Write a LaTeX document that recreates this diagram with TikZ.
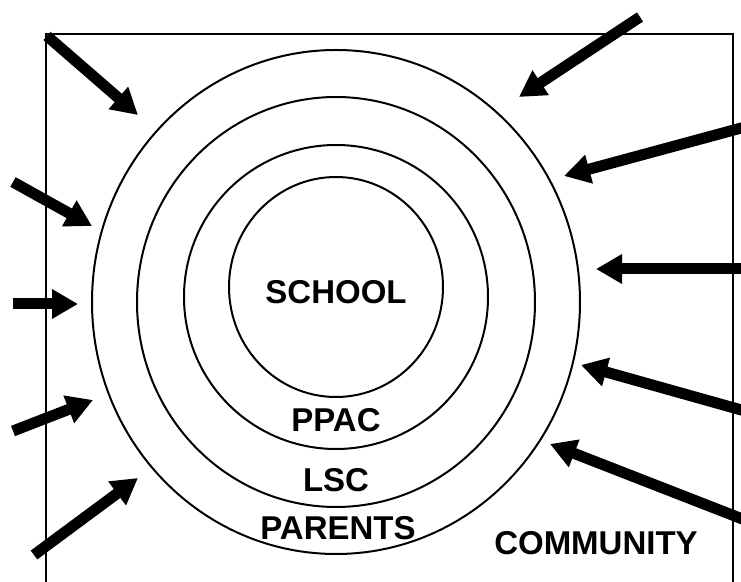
\documentclass[tikz,border=0pt]{standalone}
\usepackage{fontspec}
\setmainfont{Liberation Sans}
\usetikzlibrary{arrows.meta}

\tikzset{
  ring/.style={draw, line width=1pt},
  push/.style={line width=5.5pt, -{Triangle[length=13pt,width=14pt]}},
  lbl/.style={font=\fontsize{16.5}{18}\selectfont\bfseries, inner sep=0pt},
}

\begin{document}
\begin{tikzpicture}[x=0.5pt, y=-0.5pt]
	\clip (0,0) rectangle (741,582);
	% frame, open at the bottom
	\draw[line width=0.9pt] (46,600) -- (46,34) -- (733,34) -- (733,600);

	% the four rings, from the school outwards
	\coordinate (c1) at (336,287);
	\coordinate (c2) at (336,297);
	\coordinate (c3) at (336,302);
	\coordinate (c4) at (336,302);
	\draw[ring] (c1) ellipse[x radius=107, y radius=110];
	\draw[ring] (c2) ellipse[x radius=152, y radius=152];
	\draw[ring] (c3) ellipse[x radius=199, y radius=205];
	\draw[ring] (c4) ellipse[x radius=244, y radius=252];

	\node[lbl] (school) at (336,292) {SCHOOL};
	\node[lbl] (ppac) at (336,420) {PPAC};
	\node[lbl] (lsc) at (336,480) {LSC};
	\node[lbl] (parents) at (338,528) {PARENTS};
	\node[lbl] (community) at (596,543) {COMMUNITY};

	% tails and heads of the pressure arrows
	\coordinate (nw0) at (47,36);   \coordinate (nw1) at (138,115);
	\coordinate (ne0) at (640,17);  \coordinate (ne1) at (519,97);
	\coordinate (e10) at (745,127); \coordinate (e11) at (564,176);
	\coordinate (e20) at (745,269); \coordinate (e21) at (596,269);
	\coordinate (e30) at (745,411); \coordinate (e31) at (581,365);
	\coordinate (e40) at (745,520); \coordinate (e41) at (550,444);
	\coordinate (w10) at (13,182);  \coordinate (w11) at (92,226);
	\coordinate (w20) at (13,304);  \coordinate (w21) at (78,304);
	\coordinate (w30) at (13,431);  \coordinate (w31) at (93,400);
	\coordinate (w40) at (34,555);  \coordinate (w41) at (138,478);

	\draw[push] (nw0) -- (nw1);
	\draw[push] (ne0) -- (ne1);
	\draw[push] (e10) -- (e11);
	\draw[push] (e20) -- (e21);
	\draw[push] (e30) -- (e31);
	\draw[push] (e40) -- (e41);
	\draw[push] (w10) -- (w11);
	\draw[push] (w20) -- (w21);
	\draw[push] (w30) -- (w31);
	\draw[push] (w40) -- (w41);
\end{tikzpicture}
\end{document}
